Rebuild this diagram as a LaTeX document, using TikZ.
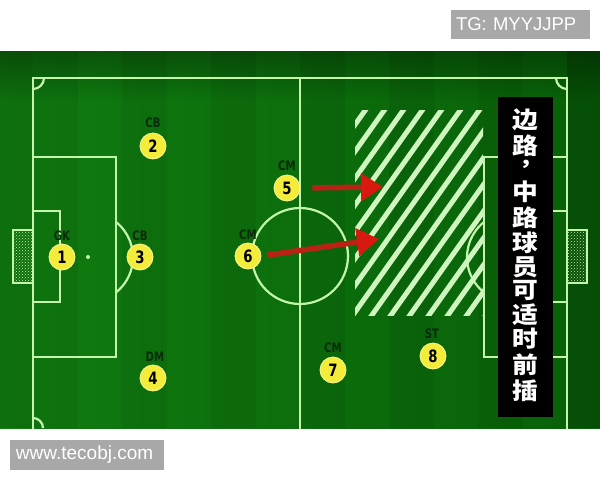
\documentclass[tikz,border=0pt]{standalone}
\usepackage{fontspec}
\setmainfont{Liberation Sans}
\newfontfamily\cjk[FakeStretch=1.12]{Noto Sans CJK SC}
\newfontfamily\numfont[FakeStretch=0.78]{DejaVu Sans}
\usetikzlibrary{arrows.meta,patterns,fadings}
\definecolor{fieldmid}{RGB}{30,172,30}
\definecolor{fielddark}{RGB}{16,124,16}
\definecolor{fielddarkR}{RGB}{8,96,8}
\definecolor{pitchline}{RGB}{195,245,170}
\definecolor{hatchcol}{RGB}{208,246,192}
\definecolor{pyellow}{RGB}{244,236,58}
\definecolor{pyellowrim}{RGB}{250,248,150}
\definecolor{arrowred}{RGB}{215,25,15}
\definecolor{shaftred}{RGB}{185,35,22}
\definecolor{labelgreen}{RGB}{12,42,12}
\definecolor{wmgrey}{RGB}{168,168,168}
\tikzfading[name=fadetop, top color=transparent!0, bottom color=transparent!100]
\tikzset{
  pline/.style={draw=pitchline, line width=2.2},
  hatchline/.style={draw=hatchcol, line width=5},
  player/.style={circle, fill=pyellow, draw=pyellowrim, line width=0.8, minimum size=26, inner sep=0,
    font=\numfont\bfseries\fontsize{17}{17}\selectfont, text=black},
  poslabel/.style={inner sep=0, font=\numfont\bfseries\fontsize{13}{13}\selectfont, text=labelgreen},
  redarrow/.style={draw=shaftred, line width=5.5, -{Triangle[length=22,width=27,color=arrowred]}},
  cjkchar/.style={inner sep=0, text=white, font=\cjk\bfseries\fontsize{23}{23}\selectfont},
  wmbox/.style={fill=wmgrey, text=white, inner ysep=0, minimum height=29, align=left}
}
\begin{document}
\begin{tikzpicture}[x=1pt,y=-1pt]
\useasboundingbox (0,0) rectangle (600,480);
\fill[white] (0,0) rectangle (600,480);
% field
\begin{scope}
\clip (0,51) rectangle (600,428);
\shade[left color=fielddark, middle color=fieldmid, right color=fielddarkR] (0,51) rectangle (600,428);
\foreach \i in {0,2,...,10}
  \fill[black,opacity=0.06] ({33+44.5*\i},51) rectangle ({33+44.5*(\i+1)},428);
\fill[black,opacity=0.1] (0,51) rectangle (33,428);
\fill[black,opacity=0.18] (567,51) rectangle (600,428);
\fill[black,opacity=0.3,path fading=fadetop] (0,51) rectangle (600,100);
% pitch markings
\draw[pline] (33,431) -- (33,78) -- (567,78) -- (567,431);
\draw[pline] (300,78) -- (300,431);
\draw[pline] (33,157) rectangle (116,357);
\draw[pline] (33,211) rectangle (60,302);
\draw[pline] (567,157) rectangle (484,357);
\draw[pline] (567,211) rectangle (540,302);
\draw[pline] (300,256) circle (48);
\draw[pline] (116,222) arc[start angle=-51.5, end angle=51.5, radius=45];
\draw[pline] (484,222) arc[start angle=231.5, end angle=128.5, radius=45];
\draw[pline] (44,78) arc[start angle=0, end angle=90, radius=11];
\draw[pline] (556,78) arc[start angle=180, end angle=90, radius=11];
\draw[pline] (43,428) arc[start angle=0, end angle=-90, radius=10];
\fill[pitchline] (88,257) circle (2);
\draw[draw=pitchline, line width=1.5, pattern=crosshatch dots, pattern color=pitchline] (13,230) rectangle (33,283);
\draw[draw=pitchline, line width=1.5, pattern=crosshatch dots, pattern color=pitchline] (567,230) rectangle (587,283);
% hatched zone
\begin{scope}
\clip (355,110) rectangle (483,315);
\foreach \k in {0,...,14}
  \draw[hatchline] ({220+19*\k-20},{315+28.2}) -- ++(185.4,-261.4);
\end{scope}
\end{scope}
% players
\node[player] (p1) at (62,257) {1};
\node[player] (p2) at (153,146) {2};
\node[player] (p3) at (140,257) {3};
\node[player] (p4) at (153,378) {4};
\node[player] (p5) at (287,188) {5};
\node[player] (p6) at (248,256) {6};
\node[player] (p7) at (333,370) {7};
\node[player] (p8) at (433,356) {8};
\node[poslabel] (l1) at (62,236) {GK};
\node[poslabel] (l2) at (153,123) {CB};
\node[poslabel] (l3) at (140,236) {CB};
\node[poslabel] (l4) at (155,357) {DM};
\node[poslabel] (l5) at (287,166) {CM};
\node[poslabel] (l6) at (248,235) {CM};
\node[poslabel] (l7) at (333,348) {CM};
\node[poslabel] (l8) at (432,334) {ST};
% arrows
\coordinate (a1e) at (383,187);
\coordinate (a2e) at (379,239);
\draw[redarrow, shorten <=12] (p5.east) -- (a1e);
\draw[redarrow, shorten <=6] (p6.east) -- (a2e);
% black banner
\fill[black] (498,97) rectangle (553,417);
\foreach \ch/\yy [count=\n] in {边/120,路/146,中/192,路/218,球/243,员/267,可/290,适/315,时/339,前/365,插/391}
  \node[cjkchar] (t\n) at (525.5,\yy) {\ch};
\node[cjkchar, anchor=base, font=\cjk\bfseries\fontsize{21}{21}\selectfont] (tc) at (520,177) {︐};
% watermarks
\node[wmbox, text width=129, inner xsep=5, font=\fontsize{18.5}{18.5}\selectfont] (tg) at (520.5,24.5) {TG: MYYJJPP};
\node[wmbox, text width=142, inner xsep=6, minimum height=30, font=\fontsize{19}{19}\selectfont] (www) at (87,455) {www.tecobj.com};
\end{tikzpicture}
\end{document}
